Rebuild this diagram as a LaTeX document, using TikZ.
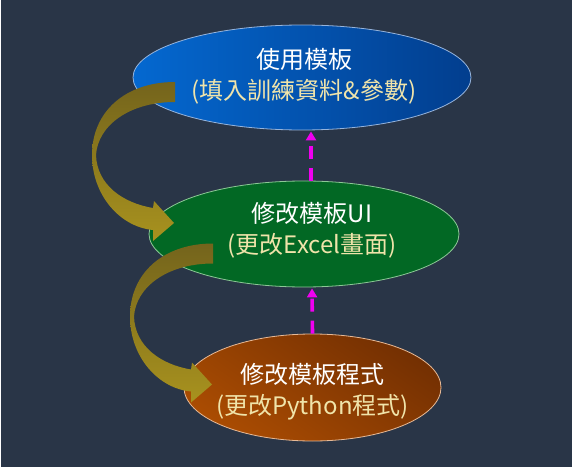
\documentclass[tikz,border=0pt]{standalone}
\usepackage{fontspec}
\newfontfamily\cjk{Noto Sans CJK TC}
\usetikzlibrary{shapes.geometric,arrows.meta,calc}
\definecolor{bg}{RGB}{41,53,71}
\definecolor{blueL}{RGB}{4,104,208}
\definecolor{blueR}{RGB}{2,62,142}
\definecolor{blueB}{RGB}{150,180,220}
\definecolor{greenF}{RGB}{2,104,36}
\definecolor{greenB}{RGB}{140,200,150}
\definecolor{orangeA}{RGB}{170,76,2}
\definecolor{orangeB}{RGB}{116,48,2}
\definecolor{orangeE}{RGB}{230,185,150}
\definecolor{olivedark}{RGB}{116,100,28}
\definecolor{olivelight}{RGB}{168,146,30}
\definecolor{line2}{RGB}{240,228,170}
\definecolor{mag}{RGB}{240,0,240}
\tikzset{
  stage/.style={ellipse, inner sep=0pt, line width=0.8pt},
  txt/.style={align=center, font=\cjk\fontsize{24}{31}\selectfont, text=white, inner sep=0pt},
  upflow/.style={draw=mag, line width=3.6pt, dash pattern=on 13pt off 9pt,
    -{Triangle[length=9pt,width=10pt]}, shorten <=0pt},
  curvearrow/.pic={
    \shade[top color=olivedark, bottom color=olivelight]
      (0,-10) .. controls (-50,-10) and (-83,20) .. (-83,63)
      .. controls (-83,103) and (-55,135) .. (-22,138)
      -- (-22,149) -- (-1,131) -- (-21,109) -- (-22,116)
      .. controls (-52,111) and (-78,93) .. (-79,63)
      .. controls (-77,33) and (-45,10) .. (0,10) -- cycle;
  }
}
\begin{document}
\begin{tikzpicture}[x=1pt,y=-1pt]
\useasboundingbox (0,0) rectangle (573,468);
\fill[white] (0,0) rectangle (573,468);
\fill[bg] (1,0) rectangle (572,466.5);

\node[stage, minimum width=338pt, minimum height=105pt, left color=blueL, right color=blueR, draw=blueB] (e1) at (302,77.5) {};
\node[stage, minimum width=310pt, minimum height=106pt, fill=greenF, draw=greenB] (e2) at (304,234) {};
\node[stage, minimum width=257pt, minimum height=107pt, top color=orangeB, bottom color=orangeA, shading angle=-35, draw=orangeE] (e3) at (312.5,387.5) {};

\node[txt] (t1) at ($(e1.center)+(2,-1)$) {使用模板\\\color{line2}(填入訓練資料\&參數)};
\node[txt] (t2) at ($(e2.center)+(8,-4)$) {修改模板UI\\\color{line2}(更改Excel畫面)};
\node[txt] (t3) at ($(e3.center)+(0,4)$) {修改模板程式\\\color{line2}(更改Python程式)};

\draw[upflow] ([xshift=7pt]e2.north) -- ([xshift=9pt,yshift=-1pt]e1.south);
\draw[upflow] ([xshift=0pt]e3.north) -- ([xshift=8pt,yshift=-1pt]e2.south);

\pic at ($(e1.center)+(-127,14.5)$) {curvearrow};
\pic at ($(e2.center)+(-91,19.5)$) {curvearrow};
\end{tikzpicture}
\end{document}
